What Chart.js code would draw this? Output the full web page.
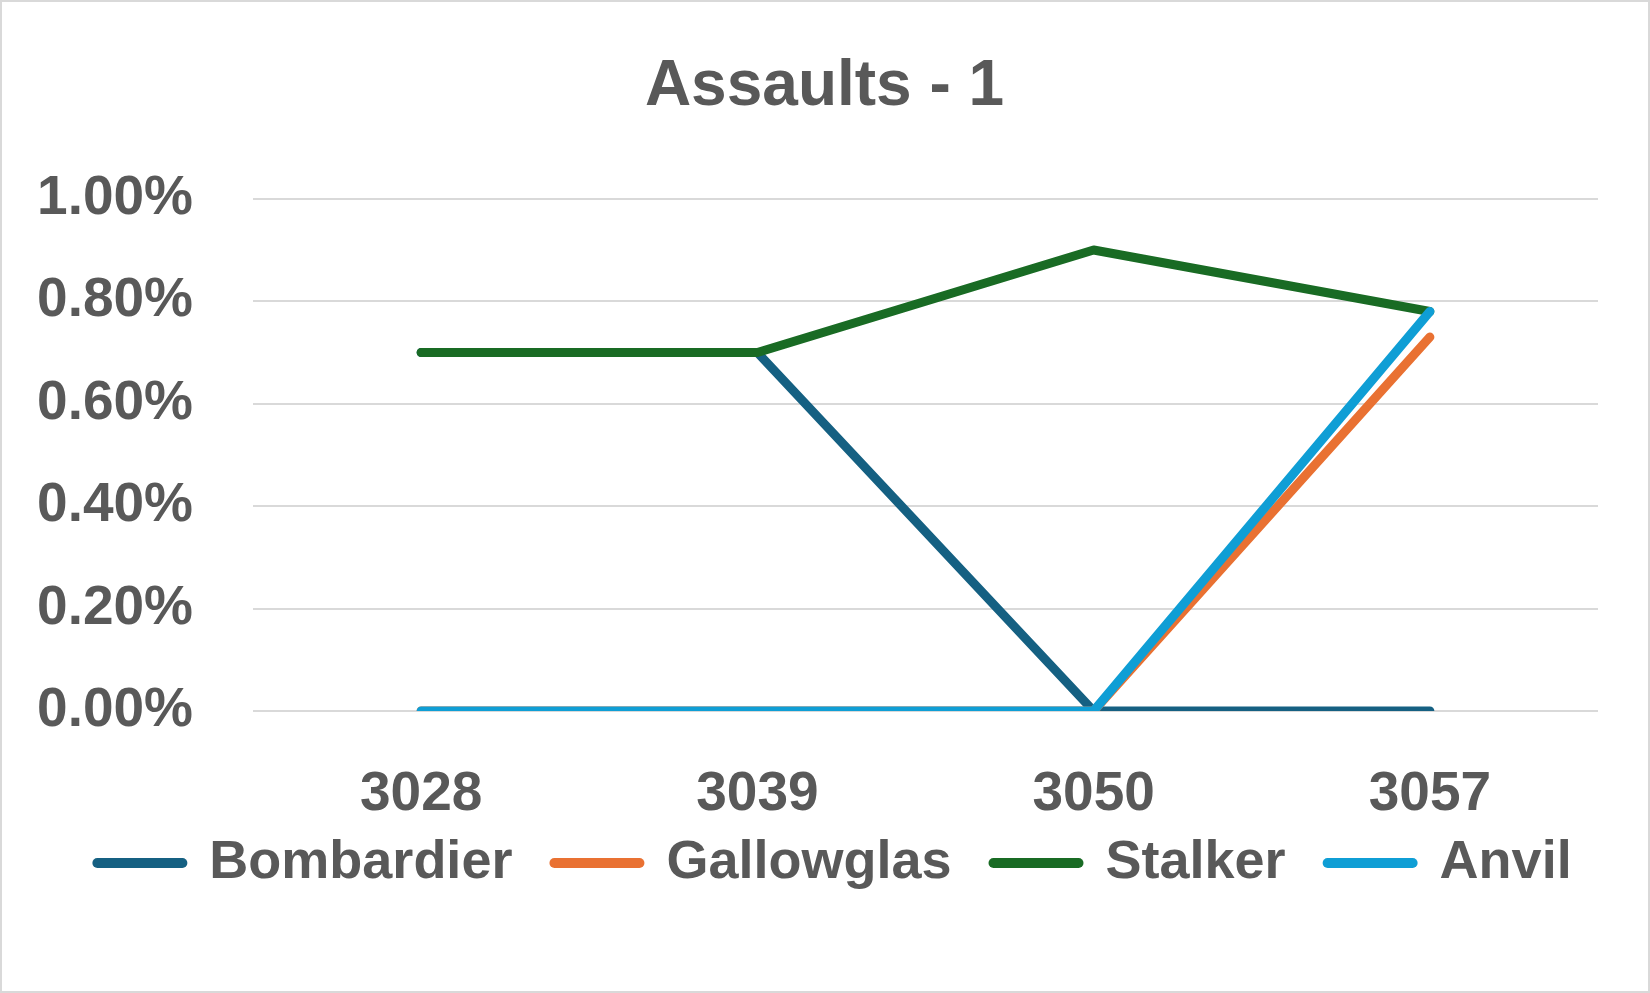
<!DOCTYPE html>
<html>
<head>
<meta charset="utf-8">
<script src="https://cdn.jsdelivr.net/npm/chart.js@4"></script>
<style>
  html, body { margin: 0; padding: 0; background: #fff; }
  #wrap {
    width: 1650px;
    height: 993px;
    box-sizing: border-box;
    border: 2px solid #d9d9d9;
    position: relative;
  }
</style>
</head>
<body>
<div id="wrap"><canvas id="chartCanvas"></canvas></div>
<script>
var years = ["3028", "3039", "3050", "3057"];

// values in percent
var bombardier = [0.70, 0.70, 0.00, 0.00];
var gallowglas = [0.00, 0.00, 0.00, 0.73];
var stalker = [0.70, 0.70, 0.90, 0.78];
var anvil = [0.00, 0.00, 0.00, 0.78];

var yTicks = [0, 0.2, 0.4, 0.6, 0.8, 1.0];

var textColor = "#595959";
var fontFamily = "'Liberation Sans', Arial, sans-serif";

function makeLine(label, data, color, order) {
  return {
    label: label,
    data: data,
    borderColor: color,
    backgroundColor: color,
    borderWidth: 9,
    borderCapStyle: "round",
    borderJoinStyle: "round",
    pointRadius: 0,
    pointHoverRadius: 0,
    tension: 0,
    fill: false,
    order: order, // later series drawn on top, like Excel
  };
}

// nudge title / legend, the excel layout isn't centred on the canvas
// and the legend sits tight under the year labels
var shiftBoxes = {
  id: "shiftBoxes",
  afterLayout: function (chart) {
    chart.titleBlock.left += 12;
    chart.titleBlock.right += 12;
    chart.legend.left += 22;
    chart.legend.right += 22;
    chart.legend.top -= 85;
    chart.legend.bottom -= 85;
  },
};

var ctx = document.getElementById("chartCanvas").getContext("2d");

var chart = new Chart(ctx, {
  type: "line",
  data: {
    labels: years,
    datasets: [
      makeLine("Bombardier", bombardier, "#156082", 4),
      makeLine("Gallowglas", gallowglas, "#E97132", 3),
      makeLine("Stalker", stalker, "#196B24", 2),
      makeLine("Anvil", anvil, "#0F9ED5", 1),
    ],
  },
  options: {
    responsive: true,
    maintainAspectRatio: false,
    animation: false,
    layout: {
      padding: { left: 25, right: 50, top: 20, bottom: 6 },
    },
    scales: {
      x: {
        offset: true,
        grid: { display: false, drawTicks: false },
        border: { display: false },
        ticks: {
          color: textColor,
          padding: 51,
          font: { family: fontFamily, size: 55, weight: "bold" },
        },
      },
      y: {
        min: 0,
        max: 1,
        afterBuildTicks: function (axis) {
          axis.ticks = yTicks.map(function (v) { return { value: v }; });
        },
        afterFit: function (axis) {
          axis.width = 226;
        },
        grid: { color: "#d9d9d9", lineWidth: 2, drawTicks: false },
        border: { display: false },
        ticks: {
          color: textColor,
          padding: 60,
          font: { family: fontFamily, size: 55, weight: "bold" },
          callback: function (v) { return v.toFixed(2) + "%"; },
        },
      },
    },
    plugins: {
      title: {
        display: true,
        text: "Assaults - 1",
        color: textColor,
        font: { family: fontFamily, size: 64, weight: "bold" },
        padding: { top: 27, bottom: 73 },
      },
      legend: {
        position: "bottom",
        labels: {
          color: textColor,
          font: { family: fontFamily, size: 54, weight: "bold" },
          usePointStyle: true,
          pointStyle: "line",
          pointStyleWidth: 85,
          padding: 42,
          sort: function (a, b) { return a.datasetIndex - b.datasetIndex; },
          generateLabels: function (chart) {
            var items = Chart.defaults.plugins.legend.labels.generateLabels(chart);
            items.forEach(function (it) { it.lineWidth = 10; it.lineCap = "round"; });
            return items;
          },
        },
      },
      tooltip: { enabled: false },
    },
  },
  plugins: [shiftBoxes],
});
</script>
</body>
</html>
